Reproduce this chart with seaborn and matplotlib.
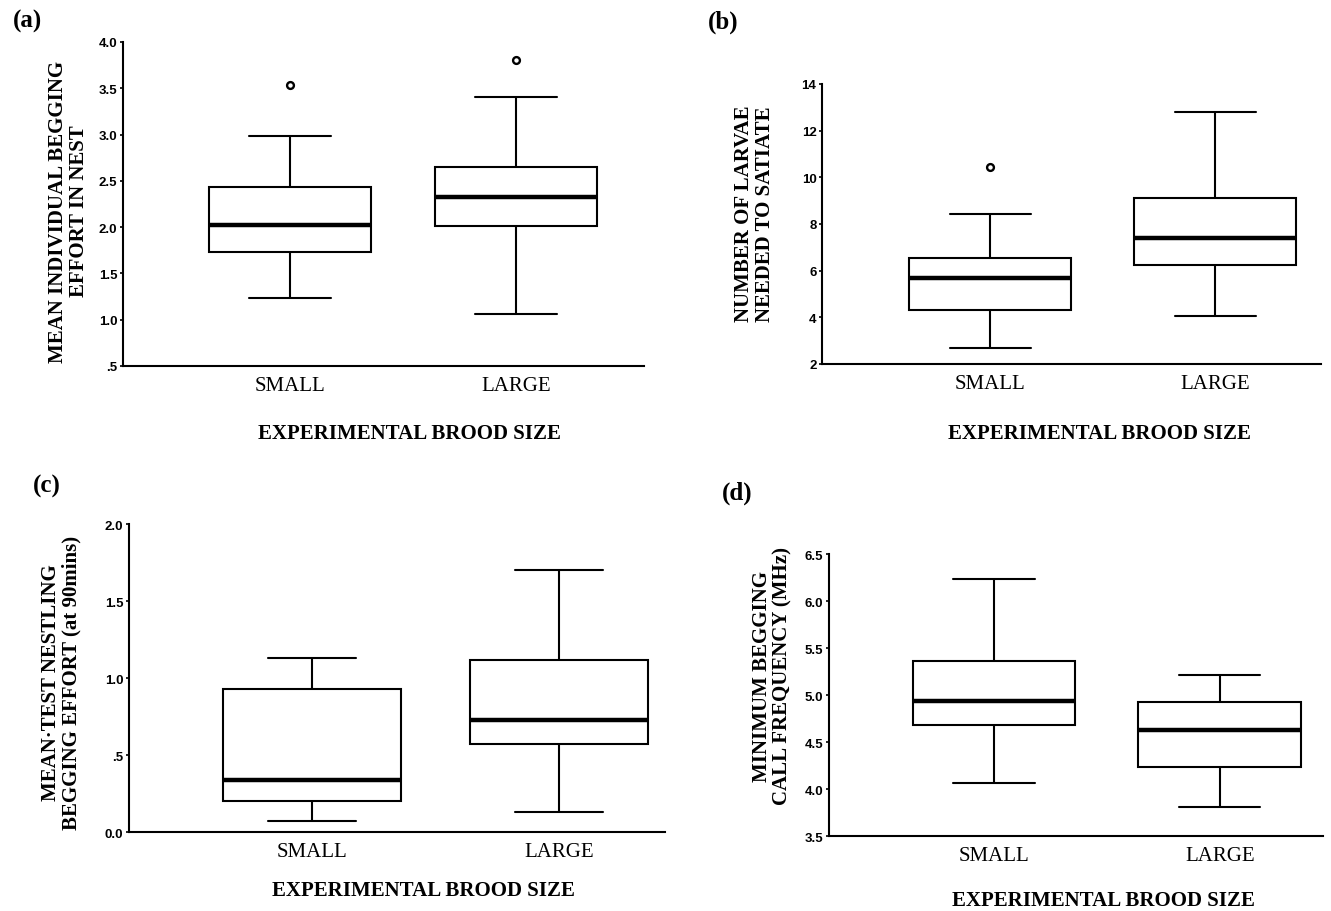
import numpy as np
import pandas as pd
import matplotlib
matplotlib.use("Agg")
import matplotlib.pyplot as plt
import seaborn as sns

sns.set_style("ticks")
plt.rcParams['font.family'] = ['Liberation Serif', 'DejaVu Serif']
plt.rcParams['text.color'] = 'black'
plt.rcParams['axes.labelcolor'] = 'black'
plt.rcParams['xtick.color'] = 'black'
plt.rcParams['ytick.color'] = 'black'
plt.rcParams['axes.edgecolor'] = 'black'

groups = ['SMALL', 'LARGE']

# box summaries per group: lower whisker, Q1, median, Q3, upper whisker
a_small = [1.23, 1.73, 2.02, 2.43, 2.98]
a_large = [1.06, 2.01, 2.32, 2.65, 3.41]
a_outliers = {'SMALL': [3.54], 'LARGE': [3.81]}

b_small = [2.67, 4.33, 5.67, 6.53, 8.43]
b_large = [4.04, 6.23, 7.40, 9.11, 12.8]
b_outliers = {'SMALL': [10.43], 'LARGE': []}

c_small = [0.07, 0.20, 0.34, 0.93, 1.13]
c_large = [0.13, 0.57, 0.73, 1.12, 1.70]
c_outliers = {'SMALL': [], 'LARGE': []}

d_small = [4.06, 4.68, 4.94, 5.36, 6.24]
d_large = [3.81, 4.24, 4.63, 4.93, 5.21]
d_outliers = {'SMALL': [], 'LARGE': []}

a_ticks = [0.5, 1.0, 1.5, 2.0, 2.5, 3.0, 3.5, 4.0]
a_ticklabels = ['.5', '1.0', '1.5', '2.0', '2.5', '3.0', '3.5', '4.0']
b_ticks = [2, 4, 6, 8, 10, 12, 14]
b_ticklabels = ['2', '4', '6', '8', '10', '12', '14']
c_ticks = [0.0, 0.5, 1.0, 1.5, 2.0]
c_ticklabels = ['0.0', '.5', '1.0', '1.5', '2.0']
d_ticks = [3.5, 4.0, 4.5, 5.0, 5.5, 6.0, 6.5]
d_ticklabels = ['3.5', '4.0', '4.5', '5.0', '5.5', '6.0', '6.5']

ylabels = {
    'a': 'MEAN INDIVIDUAL BEGGING\nEFFORT IN NEST',
    'b': 'NUMBER OF LARVAE\nNEEDED TO SATIATE',
    'c': 'MEAN\u00b7TEST NESTLING\nBEGGING EFFORT (at 90mins)',
    'd': 'MINIMUM BEGGING\nCALL FREQUENCY (MHz)',
}
xlabel = 'EXPERIMENTAL BROOD SIZE'

panels = [
    # key, small, large, outliers, ticks, ticklabels, axes rect, xlim,
    # xlabel coords, ylabel coords, panel label centre (pixels)
    ('a', a_small, a_large, a_outliers, a_ticks, a_ticklabels,
     [0.0924, 0.5976, 0.3914, 0.3553], (-0.739, 1.566), (0.549, -0.175),
     (-0.065, 0.48), (27, 21)),
    ('b', b_small, b_large, b_outliers, b_ticks, b_ticklabels,
     [0.6176, 0.5998, 0.3750, 0.3070], (-0.747, 1.471), (0.555, -0.21),
     (-0.094, 0.54), (723, 22)),
    ('c', c_small, c_large, c_outliers, c_ticks, c_ticklabels,
     [0.0969, 0.0866, 0.4027, 0.3377], (-0.741, 1.429), (0.55, -0.155),
     (-0.088, 0.487), (47, 486)),
    ('d', d_small, d_large, d_outliers, d_ticks, d_ticklabels,
     [0.6228, 0.0822, 0.3710, 0.3090], (-0.730, 1.456), (0.555, -0.19),
     (-0.073, 0.57), (737, 493)),
]

W, H = 1331, 912
fig = plt.figure(figsize=(W / 100, H / 100), dpi=100)

for key, small, large, outl, ticks, ticklabels, rect, xlim, xl_pos, yl_pos, lab_xy in panels:
    ax = fig.add_axes(rect)
    df = pd.DataFrame({
        'group': ['SMALL'] * len(small) + ['LARGE'] * len(large),
        'value': small + large,
    })
    sns.boxplot(data=df, x='group', y='value', order=groups, ax=ax,
                whis=(0, 100), width=0.72, color='white', linecolor='black',
                linewidth=1.5, showfliers=False,
                medianprops={'linewidth': 3.2, 'color': 'black'})
    out_df = pd.DataFrame({
        'group': [g for g in groups for _ in outl[g]],
        'value': [v for g in groups for v in outl[g]],
    })
    if len(out_df):
        sns.scatterplot(data=out_df, x='group', y='value', ax=ax, marker='o',
                        s=24, facecolor='white', edgecolor='black', linewidth=1.7,
                        zorder=5)
    ax.set_xlim(*xlim)
    ax.set_ylim(ticks[0], ticks[-1])
    ax.set_yticks(ticks)
    ax.set_yticklabels(ticklabels, family=['Liberation Sans', 'DejaVu Sans'],
                       fontsize=9.5, fontweight='bold')
    ax.tick_params(axis='y', length=2.5, width=1.2, pad=1.5)
    ax.tick_params(axis='x', length=0, pad=7, labelsize=15)
    ax.set_xticks([0, 1])
    ax.set_xticklabels(groups)
    sns.despine(ax=ax)
    for s in ['left', 'bottom']:
        ax.spines[s].set_linewidth(1.5)
    ax.set_ylabel(ylabels[key], fontsize=15, fontweight='bold', linespacing=1.05)
    ax.yaxis.set_label_coords(*yl_pos)
    ax.set_xlabel(xlabel, fontsize=15, fontweight='bold')
    ax.xaxis.set_label_coords(*xl_pos)
    fig.text(lab_xy[0] / W, 1 - lab_xy[1] / H, '(%s)' % key, fontsize=18,
             fontweight='bold', ha='center', va='center')

fig.savefig('out.png', dpi=100)
